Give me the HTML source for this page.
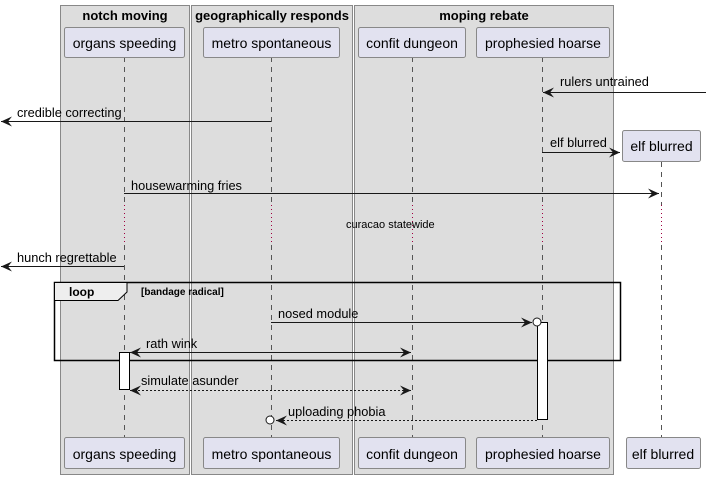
<!DOCTYPE html>
<html><head><meta charset="utf-8"><style>body{margin:0;background:#fff}svg{display:block}text{font-family:"Liberation Sans",sans-serif}</style></head><body>
<svg width="710" height="479" xmlns="http://www.w3.org/2000/svg">
<defs>
<marker id="a" markerWidth="12" markerHeight="10" refX="11" refY="5" orient="auto" markerUnits="userSpaceOnUse"><path d="M0,0 L11,5 L0,10 L4,5 Z" fill="#181818"/></marker>
<marker id="b" markerWidth="12" markerHeight="10" refX="1" refY="5" orient="auto" markerUnits="userSpaceOnUse"><path d="M12,0 L1,5 L12,10 L8,5 Z" fill="#181818"/></marker>
</defs>
<g fill="#dddddd" stroke="#888" stroke-width="1">
<rect x="60.5" y="5.5" width="129" height="469"/>
<rect x="191.5" y="5.5" width="161" height="469"/>
<rect x="354.5" y="5.5" width="259" height="469"/>
</g>
<g font-size="13" font-weight="bold" text-anchor="middle" fill="#000">
<text x="125" y="20">notch moving</text>
<text x="272" y="20">geographically responds</text>
<text x="484" y="20">moping rebate</text>
</g>
<g stroke="#555" stroke-dasharray="5,5" stroke-width="1">
<line x1="124.5" y1="57" x2="124.5" y2="205"/><line x1="124.5" y1="245" x2="124.5" y2="438"/>
<line x1="271.5" y1="57" x2="271.5" y2="205"/><line x1="271.5" y1="245" x2="271.5" y2="438"/>
<line x1="412.5" y1="57" x2="412.5" y2="205"/><line x1="412.5" y1="245" x2="412.5" y2="438"/>
<line x1="542.5" y1="57" x2="542.5" y2="205"/><line x1="542.5" y1="245" x2="542.5" y2="438"/>
<line x1="661.5" y1="162" x2="661.5" y2="205"/><line x1="661.5" y1="245" x2="661.5" y2="438"/>
</g>
<g stroke="#a00040" stroke-dasharray="1,3" stroke-width="1">
<line x1="124.5" y1="205" x2="124.5" y2="245"/><line x1="271.5" y1="205" x2="271.5" y2="245"/>
<line x1="412.5" y1="205" x2="412.5" y2="245"/><line x1="542.5" y1="205" x2="542.5" y2="245"/>
<line x1="661.5" y1="205" x2="661.5" y2="245"/>
</g>
<g fill="#e2e2f0" stroke="#888" stroke-width="1">
<rect x="64.5" y="27.5" width="120" height="30" rx="2"/>
<rect x="203.5" y="27.5" width="136" height="30" rx="2"/>
<rect x="358.5" y="27.5" width="107" height="30" rx="2"/>
<rect x="476.5" y="27.5" width="133" height="30" rx="2"/>
<rect x="622.5" y="130.5" width="78" height="31" rx="2"/>
<rect x="64.5" y="437.5" width="120" height="31" rx="2"/>
<rect x="203.5" y="437.5" width="136" height="31" rx="2"/>
<rect x="358.5" y="437.5" width="107" height="31" rx="2"/>
<rect x="476.5" y="437.5" width="133" height="31" rx="2"/>
<rect x="626.5" y="437.5" width="74" height="31" rx="2"/>
</g>
<g font-size="14" text-anchor="middle" fill="#000">
<text x="124.5" y="48">organs speeding</text>
<text x="271.5" y="48">metro spontaneous</text>
<text x="412" y="48">confit dungeon</text>
<text x="543" y="48">prophesied hoarse</text>
<text x="661.5" y="151">elf blurred</text>
<text x="124.5" y="459">organs speeding</text>
<text x="271.5" y="459">metro spontaneous</text>
<text x="412" y="459">confit dungeon</text>
<text x="543" y="459">prophesied hoarse</text>
<text x="663" y="459">elf blurred</text>
</g>
<rect x="54.5" y="282.5" width="566" height="78" fill="none" stroke="#000" stroke-width="1.5"/>
<path d="M54.5,282.5 H127 V292 L118,300.5 H54.5 Z" fill="#eeeeee" stroke="#000" stroke-width="1"/>
<text x="69" y="296" font-size="12" font-weight="bold">loop</text>
<text x="141" y="295" font-size="10" font-weight="bold">[bandage radical]</text>
<rect x="119.5" y="352.5" width="10" height="37" fill="#fff" stroke="#000"/>
<rect x="537.5" y="322.5" width="10" height="97" fill="#fff" stroke="#000"/>
<g stroke="#181818" stroke-width="1" fill="none">
<line x1="706" y1="92.5" x2="543" y2="92.5" marker-end="url(#a)"/>
<line x1="271" y1="121.5" x2="1" y2="121.5" marker-end="url(#a)"/>
<line x1="542" y1="152.5" x2="620" y2="152.5" marker-end="url(#a)"/>
<line x1="124" y1="193.5" x2="659" y2="193.5" marker-end="url(#a)"/>
<line x1="124" y1="266.5" x2="1" y2="266.5" marker-end="url(#a)"/>
<line x1="271" y1="322.5" x2="532" y2="322.5" marker-end="url(#a)"/>
<circle cx="537" cy="322" r="4" fill="#fff"/>
<line x1="130" y1="352.5" x2="411" y2="352.5" marker-start="url(#b)" marker-end="url(#a)"/>
<line x1="130" y1="390.5" x2="411" y2="390.5" stroke-dasharray="2,2" marker-start="url(#b)" marker-end="url(#a)"/>
<line x1="537" y1="420.5" x2="276" y2="420.5" stroke-dasharray="2,2" marker-end="url(#a)"/>
<circle cx="270" cy="420" r="4" fill="#fff"/>
</g>
<g font-size="12.8" fill="#000">
<text x="560" y="86">rulers untrained</text>
<text x="17" y="117">credible correcting</text>
<text x="550" y="147">elf blurred</text>
<text x="131" y="190">housewarming fries</text>
<text x="17" y="262">hunch regrettable</text>
<text x="278" y="318">nosed module</text>
<text x="146" y="348">rath wink</text>
<text x="141" y="385">simulate asunder</text>
<text x="288" y="416">uploading phobia</text>
<text x="346" y="228" font-size="11">curacao statewide</text>
</g>
</svg>
</body></html>
